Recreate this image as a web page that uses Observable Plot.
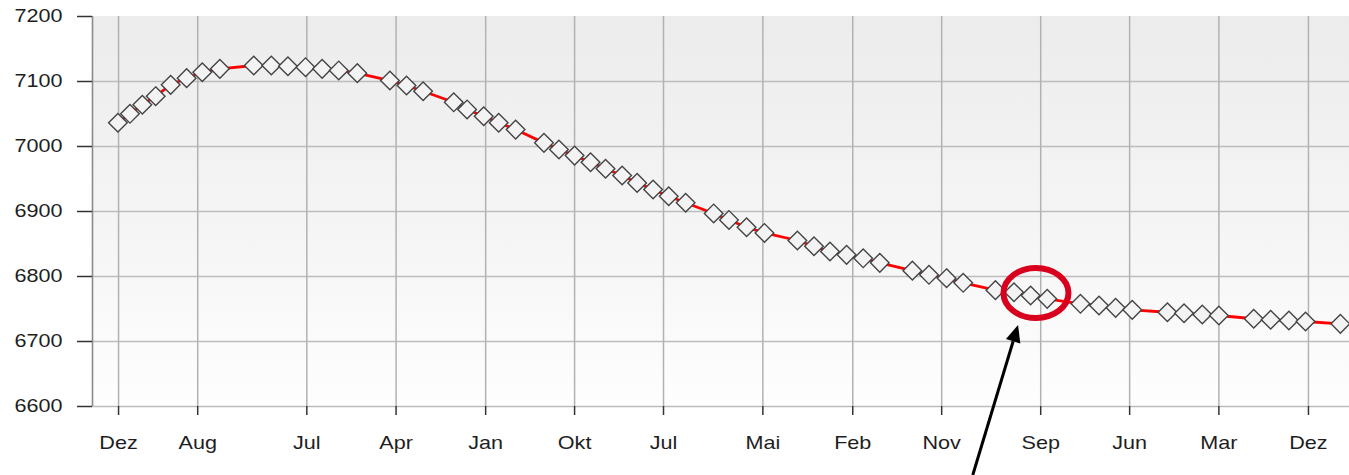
<!DOCTYPE html>
<html>
<head>
<meta charset="utf-8">
<script src="https://cdn.jsdelivr.net/npm/d3@7"></script>
<script src="https://cdn.jsdelivr.net/npm/@observablehq/plot@0.6"></script>
<style>
html, body { margin: 0; padding: 0; background: #ffffff; }
#chart svg { display: block; overflow: visible; }
</style>
</head>
<body>
<div id="chart"></div>
<script>
// ---- data ----
const dates = [
  "2010-11-29","2011-01-05","2011-02-12","2011-03-25","2011-05-10","2011-06-28","2011-08-15","2011-10-08",
  "2012-01-20","2012-03-14","2012-05-04","2012-06-27","2012-08-17","2012-10-07","2012-12-03",
  "2013-03-13","2013-05-03","2013-06-23",
  "2013-09-25","2013-11-05","2013-12-26","2014-02-10","2014-04-03",
  "2014-06-29","2014-08-14","2014-10-01","2014-11-19","2015-01-04","2015-02-24","2015-04-11","2015-05-30","2015-07-17","2015-09-07",
  "2015-12-02","2016-01-18","2016-03-12","2016-05-06",
  "2016-08-15","2016-10-05","2016-11-23","2017-01-13","2017-03-05","2017-04-25",
  "2017-08-03","2017-09-23","2017-11-16","2018-01-06",
  "2018-04-15","2018-06-11","2018-08-01","2018-09-21",
  "2019-01-01","2019-02-27","2019-04-19","2019-06-09",
  "2019-09-25","2019-11-15","2020-01-10","2020-03-01",
  "2020-06-16","2020-08-07","2020-10-02","2020-11-22",
  "2021-03-09"
];
const values = [
  7036.5, 7050.3, 7064.2, 7077.4, 7094.9, 7105.1, 7114.3, 7119.5,
  7124.6, 7124.6, 7123.5, 7122.0, 7119.5, 7117.0, 7112.8,
  7101.5, 7093.8, 7085.0,
  7068.0, 7057.0, 7046.6, 7036.5, 7026.0,
  7005.6, 6995.4, 6986.0, 6975.8, 6965.7, 6955.4, 6944.0, 6933.8, 6923.5, 6913.4,
  6897.0, 6887.0, 6875.8, 6867.0,
  6855.4, 6846.6, 6838.5, 6833.3, 6828.0, 6821.0,
  6809.0, 6802.6, 6797.4, 6790.3,
  6779.0, 6775.8, 6770.8, 6765.6,
  6758.0, 6755.4, 6751.8, 6748.7,
  6745.0, 6743.5, 6741.5, 6740.0,
  6735.0, 6733.4, 6732.3, 6730.8,
  6727.2
];
const tickDates = ["2010-12-01","2011-08-01","2012-07-01","2013-04-01","2014-01-01","2014-10-01","2015-07-01",
                   "2016-05-01","2017-02-01","2017-11-01","2018-09-01","2019-06-01","2020-03-01","2020-12-01"];
const tickLabels = ["Dez","Aug","Jul","Apr","Jan","Okt","Jul","Mai","Feb","Nov","Sep","Jun","Mar","Dez"];
const yTicks = [6600, 6700, 6800, 6900, 7000, 7100, 7200];
const yTickLabels = ["6600", "6700", "6800", "6900", "7000", "7100", "7200"];
const yGrid = [6600, 6700, 6800, 6900, 7000, 7100];
const xDomain = ["2010-09-12", "2021-04-06"];
const yDomain = [6600, 7200];
// annotation anchors (data coordinates)
const circleAt = {date: "2018-08-19", value: 6773.8};
const arrowFrom = {date: "2018-02-06", value: 6493.8};
const arrowTo = {date: "2018-06-25", value: 6724.6};

// ---- build ----
const parse = s => new Date(s + "T00:00:00Z");
const data = dates.map((d, i) => ({date: parse(d), value: values[i]}));
const tickD = tickDates.map(parse);
const labelMap = new Map(tickD.map((d, i) => [+d, tickLabels[i]]));
const yLabelMap = new Map(yTicks.map((v, i) => [v, yTickLabels[i]]));

function background(index, scales, values, dim) {
  const g = d3.create("svg:g");
  const defs = g.append("defs");
  const lg = defs.append("linearGradient").attr("id", "bgGrad")
    .attr("x1", 0).attr("y1", 0).attr("x2", 0).attr("y2", 1);
  lg.append("stop").attr("offset", "0%").attr("stop-color", "#ececec");
  lg.append("stop").attr("offset", "55%").attr("stop-color", "#f5f5f5");
  lg.append("stop").attr("offset", "100%").attr("stop-color", "#fefefe");
  g.append("rect")
    .attr("x", dim.marginLeft).attr("y", dim.marginTop)
    .attr("width", dim.width - dim.marginLeft - dim.marginRight)
    .attr("height", dim.height - dim.marginTop - dim.marginBottom)
    .attr("fill", "url(#bgGrad)");
  return g.node();
}

function annotations(index, scales) {
  const {x, y} = scales;
  const g = d3.create("svg:g");
  const cx = x(parse(circleAt.date)), cy = y(circleAt.value);
  g.append("ellipse").attr("cx", cx).attr("cy", cy).attr("rx", 32.5).attr("ry", 25)
    .attr("fill", "none").attr("stroke", "#d8001c").attr("stroke-width", 6);
  const x1 = x(parse(arrowFrom.date)), y1 = y(arrowFrom.value);
  const x2 = x(parse(arrowTo.date)), y2 = y(arrowTo.value);
  const ang = Math.atan2(y2 - y1, x2 - x1);
  const L = 17, W = 7.5;
  const bx = x2 - L * Math.cos(ang), by = y2 - L * Math.sin(ang);
  const px = -Math.sin(ang), py = Math.cos(ang);
  g.append("line").attr("x1", x1).attr("y1", y1).attr("x2", bx).attr("y2", by)
    .attr("stroke", "#000").attr("stroke-width", 3);
  g.append("path")
    .attr("d", `M${x2},${y2}L${bx + W * px},${by + W * py}L${bx - W * px},${by - W * py}Z`)
    .attr("fill", "#000");
  return g.node();
}

const chart = Plot.plot({
  width: 1349,
  height: 475,
  marginLeft: 92,
  marginRight: 0,
  marginTop: 16,
  marginBottom: 69,
  style: {fontFamily: "'Liberation Sans', Arial, sans-serif", fontSize: "18px", color: "#1e1e1e", background: "#ffffff"},
  x: {type: "utc", domain: xDomain.map(parse)},
  y: {domain: yDomain},
  marks: [
    background,
    Plot.gridY(yGrid, {stroke: "#bdbdbd", strokeOpacity: 1, strokeWidth: 1.4}),
    Plot.gridX(tickD, {stroke: "#b2b2b2", strokeOpacity: 1, strokeWidth: 1.5}),
    Plot.ruleX([parse(xDomain[0])], {y1: yDomain[0], y2: yDomain[1], stroke: "#8a8a8a", strokeWidth: 1.6}),
    Plot.axisY(yTicks, {tickSize: 15, tickPadding: 15, fontSize: 18, label: null, stroke: "#333", strokeWidth: 1.5,
      tickFormat: v => yLabelMap.get(v)}),
    Plot.axisX(tickD, {tickSize: 9, tickPadding: 21, fontSize: 18, label: null, stroke: "#333", strokeWidth: 1.5,
      tickFormat: d => labelMap.get(+d)}),
    Plot.line(data, {x: "date", y: "value", stroke: "#ff0000", strokeWidth: 2.8}),
    Plot.dot(data, {x: "date", y: "value", symbol: "diamond2", r: 8.4, fill: "#f3f3f3", stroke: "#444444", strokeWidth: 1.4}),
    annotations
  ]
});

// widen tick labels horizontally to match the reference's stretched glyphs
d3.select(chart).selectAll('g[aria-label="y-axis tick label"] text, g[aria-label="x-axis tick label"] text').each(function () {
  const t = this;
  let tr = t.getAttribute("transform");
  if (!tr || tr.indexOf("translate") < 0) {
    const xx = +(t.getAttribute("x") || 0), yy = +(t.getAttribute("y") || 0);
    t.removeAttribute("x"); t.removeAttribute("y");
    tr = `translate(${xx},${yy})` + (tr ? " " + tr : "");
  }
  t.setAttribute("transform", tr + " scale(1.2,1)");
});

document.getElementById("chart").appendChild(chart);
</script>
</body>
</html>
